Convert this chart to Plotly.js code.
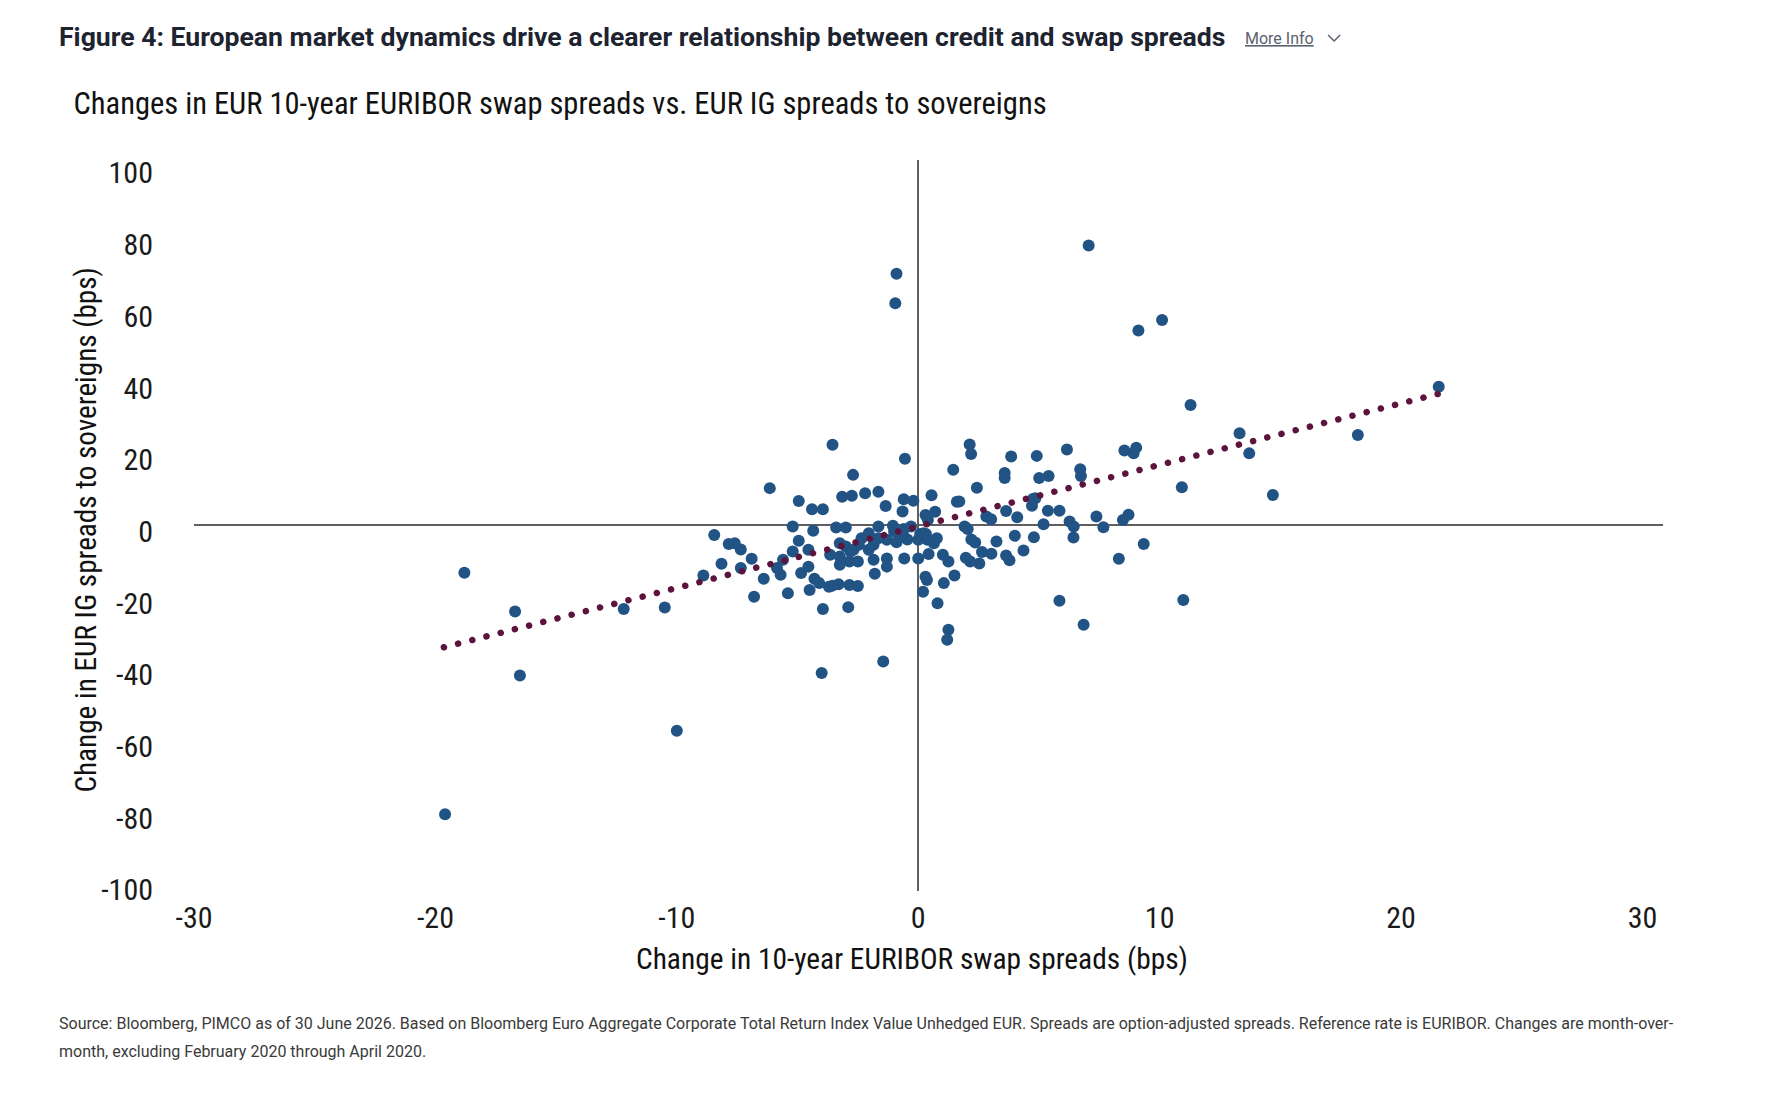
<!DOCTYPE html>
<html>
<head>
<meta charset="utf-8">
<script src="https://cdn.plot.ly/plotly-3.0.1.min.js"></script>
<style>
  html, body { margin: 0; padding: 0; background: #ffffff; }
  #chart { width: 1774px; height: 1120px; }
  /* round caps turn the zero-length dashes of the fit line into dots */
  #chart .js-line { stroke-linecap: round; }
</style>
</head>
<body>
<div id="chart"></div>
<script>
// Monthly changes, bps
const swapSpreadChange = [
  -19.6, -18.8, -16.7, -16.5, -12.2, -10.5, -10.0, -8.9, -8.45, -8.15,
  -7.85, -7.6, -7.35, -7.35, -6.9, -6.8, -6.4, -6.15, -5.85, -5.7,
  -5.6, -5.4, -5.2, -4.95, -4.95, -4.85, -5.2, -4.55, -4.55, -4.5,
  -4.4, -4.35, -4.3, -4.1, -3.95, -3.95, -4.0, -3.55, -3.7, -3.65,
  -3.4, -3.3, -3.25, -3.25, -3.25, -3.15, -3.0, -3.0, -2.85, -2.9,
  -2.8, -2.85, -2.75, -2.7, -2.5, -2.5, -2.35, -2.2, -2.05, -2.05,
  -1.85, -1.85, -1.8, -1.65, -1.65, -1.65, -1.35, -1.3, -1.3, -1.3,
  -1.45, -1.05, -1.0, -0.9, -0.8, -0.9, -0.95, -0.65, -0.6, -0.55,
  -0.6, -0.58, -0.45, -0.3, -0.2, 0.0, 0.08, 0.0, 0.2, 0.22,
  0.3, 0.3, 0.36, 0.38, 0.4, 0.43, 0.55, 0.65, 0.7, 0.77,
  0.8, 1.02, 1.06, 1.25, 1.25, 1.2, 1.45, 1.5, 1.6, 1.7,
  1.92, 2.05, 1.97, 2.13, 2.19, 2.15, 2.2, 2.36, 2.43, 2.53,
  2.64, 2.82, 3.02, 3.03, 3.24, 3.58, 3.58, 3.64, 3.64, 3.78,
  3.85, 4.0, 4.1, 4.36, 4.71, 4.79, 4.85, 4.75, 4.91, 5.01,
  5.19, 5.37, 5.4, 5.85, 5.85, 6.16, 6.27, 6.44, 6.43, 6.71,
  6.74, 6.85, 7.06, 7.38, 7.67, 8.31, 8.48, 8.71, 8.54, 8.92,
  9.03, 9.12, 9.34, 10.1, 10.92, 10.98, 11.28, 13.31, 13.71, 14.69,
  18.21, 21.56,
  -2.68, 0.32, -3.55, -2.46, -0.6
];
const igSpreadChange = [
  -80.6, -13.2, -24.0, -41.9, -23.3, -22.9, -57.3, -14.0, -2.7, -10.7,
  -5.2, -5.0, -6.7, -11.9, -9.3, -19.9, -14.9, 10.4, -11.9, -13.8,
  -9.6, -18.9, -0.3, 6.8, -4.3, -13.3, -7.3, -6.8, -11.5, -18.0,
  4.5, -1.5, -14.9, -16.1, 4.5, -23.3, -41.2, 22.5, -17.1, -8.2,
  -0.6, -16.4, -5.0, -8.7, -11.0, 8.0, -0.6, -5.9, -16.6, -22.8,
  -7.3, -10.1, 8.3, 14.1, -16.9, -10.1, -3.6, 9.0, -2.2, -6.8,
  -5.4, -9.6, -13.5, 9.4, -0.3, -3.6, 5.4, -4.0, -9.2, -11.5,
  -38.0, -0.1, -1.7, -4.7, -2.2, 70.2, 62.0, 3.9, 7.3, 18.6,
  -3.1, -9.2, -3.9, -0.3, 6.9, -4.0, -2.4, -9.2, -18.5, -2.2,
  2.9, -14.3, -15.2, -4.0, 1.5, -8.0, 8.4, -5.0, 3.8, -3.6,
  -21.7, -8.2, -16.1, -10.1, -29.1, -31.9, 15.5, -14.0, 6.6, 6.7,
  -0.3, -1.0, -9.0, 22.6, 19.9, -10.1, -3.9, -4.8, 10.5, -10.6,
  -7.4, 2.5, 1.7, -7.9, -4.5, 14.6, 13.2, 4.0, -8.4, -9.7,
  19.2, -2.9, 2.3, -7.0, 5.5, -3.3, 7.6, 7.4, 19.4, 13.2,
  0.3, 4.1, 13.8, 4.1, -21.0, 21.2, 1.1, -0.3, -3.4, 15.7,
  13.8, -27.7, 78.1, 2.5, -0.5, -9.3, 1.5, 3.0, 20.9, 20.1,
  21.7, 54.4, -5.2, 57.3, 10.65, -20.8, 33.6, 25.7, 20.1, 8.5,
  25.2, 38.7,
  -6.8, -2.4, -16.8, -5.4, -1.0
];

// Linear fit, from the smallest to the largest swap-spread change
const fitX = [-19.65, 21.6];
const fitY = [-34.0, 36.8];

// Axis ticks
const xTicks = [-30, -20, -10, 0, 10, 20, 30];
const yTicks = [-100, -80, -60, -40, -20, 0, 20, 40, 60, 80, 100];

const W = 1774, H = 1120;
const M = { l: 193.5, r: 111, t: 160, b: 229 };
const PW = W - M.l - M.r, PH = H - M.t - M.b;
const px = v => (v - M.l) / PW;          // page x -> paper x
const py = v => 1 - (v - M.t) / PH;      // page y -> paper y

const NARROW = 'Liberation Sans Narrow, Roboto Condensed, Arial Narrow, sans-serif';
const SANS = 'Roboto, Noto Sans, Arial, sans-serif';

const traces = [
  {
    type: 'scatter', mode: 'markers',
    x: swapSpreadChange, y: igSpreadChange,
    marker: { color: '#215485', size: 12, line: { width: 0 } },
    hoverinfo: 'x+y', showlegend: false
  },
  {
    type: 'scatter', mode: 'lines',
    x: fitX, y: fitY,
    line: { color: '#5c143c', width: 6.5, dash: '0.1px,14.55px' },
    hoverinfo: 'skip', showlegend: false
  }
];

const layout = {
  width: W, height: H,
  margin: M,
  paper_bgcolor: '#ffffff', plot_bgcolor: '#ffffff',
  showlegend: false,
  title: {
    text: 'Changes in EUR 10-year EURIBOR swap spreads vs. EUR IG spreads to sovereigns',
    xref: 'container', yref: 'container',
    x: 73.5 / W, xanchor: 'left',
    y: 1 - 103 / H, yanchor: 'middle',
    font: { family: NARROW, size: 30.5, color: '#111111' }
  },
  xaxis: {
    range: [-30, 30.85],
    tickmode: 'array', tickvals: xTicks, ticktext: xTicks.map(String),
    showgrid: false, showline: false, ticks: '',
    zeroline: true, zerolinecolor: '#5f5f5f', zerolinewidth: 2,
    tickfont: { family: NARROW, size: 30, color: '#1a1a1a' },
    ticklabelstandoff: 6,
    fixedrange: true
  },
  yaxis: {
    range: [-102, 101.95],
    tickmode: 'array', tickvals: yTicks, ticktext: yTicks.map(String),
    showgrid: false, showline: false, ticks: '',
    zeroline: true, zerolinecolor: '#5f5f5f', zerolinewidth: 2,
    tickfont: { family: NARROW, size: 30, color: '#1a1a1a' },
    ticklabelstandoff: 40,
    ticklabelshift: 6,
    fixedrange: true
  },
  annotations: [
    {
      text: 'Figure 4: European market dynamics drive a clearer relationship between credit and swap spreads',
      xref: 'paper', yref: 'paper', x: px(56), y: py(37),
      xanchor: 'left', yanchor: 'middle', showarrow: false,
      font: { family: SANS, size: 26.6, weight: 700, color: '#1e2330' }
    },
    {
      text: 'More Info',
      xref: 'paper', yref: 'paper', x: px(1243), y: py(38),
      xanchor: 'left', yanchor: 'middle', showarrow: false,
      font: { family: SANS, size: 16, color: '#5b6270', lineposition: 'under' }
    },
    {
      // x-axis title
      text: 'Change in 10-year EURIBOR swap spreads (bps)',
      xref: 'paper', yref: 'paper', x: px(912), y: py(959),
      xanchor: 'center', yanchor: 'middle', showarrow: false,
      font: { family: NARROW, size: 29.4, color: '#111111' }
    },
    {
      // y-axis title
      text: 'Change in EUR IG spreads to sovereigns (bps)',
      xref: 'paper', yref: 'paper', x: px(85), y: py(530),
      xanchor: 'center', yanchor: 'middle', showarrow: false, textangle: -90,
      font: { family: NARROW, size: 29.2, color: '#111111' }
    },
    {
      text: 'Source: Bloomberg, PIMCO as of 30 June 2026. Based on Bloomberg Euro Aggregate Corporate Total Return Index Value Unhedged EUR. Spreads are option-adjusted spreads. Reference rate is EURIBOR. Changes are month-over-',
      xref: 'paper', yref: 'paper', x: px(56), y: py(1023),
      xanchor: 'left', yanchor: 'middle', showarrow: false,
      font: { family: SANS, size: 16, color: '#3a3a3a' }
    },
    {
      text: 'month, excluding February 2020 through April 2020.',
      xref: 'paper', yref: 'paper', x: px(56), y: py(1051),
      xanchor: 'left', yanchor: 'middle', showarrow: false,
      font: { family: SANS, size: 16, color: '#3a3a3a' }
    }
  ],
  shapes: [
    {
      // chevron beside "More Info"
      type: 'path', xref: 'paper', yref: 'paper',
      path: 'M ' + px(1328) + ' ' + py(35) + ' L ' + px(1334) + ' ' + py(41) + ' L ' + px(1340) + ' ' + py(35),
      line: { color: '#5b6270', width: 1.5 }
    }
  ]
};

Plotly.newPlot('chart', traces, layout, { displayModeBar: false, staticPlot: true });
</script>
</body>
</html>
